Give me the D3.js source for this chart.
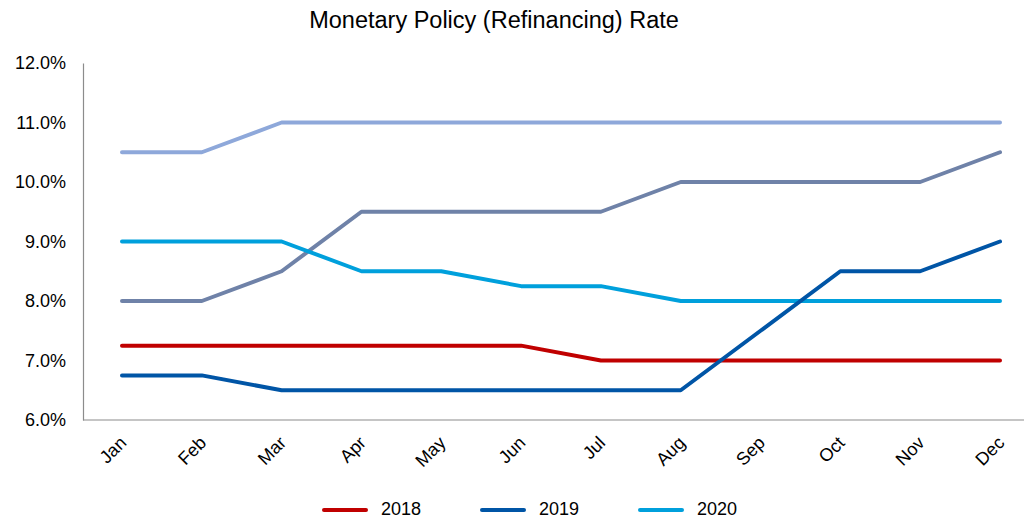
<!DOCTYPE html>
<html><head><meta charset="utf-8">
<script src="https://cdn.jsdelivr.net/npm/d3@7"></script>
<style>body{margin:0;background:#fff;}svg{display:block;font-family:"Liberation Sans",Arial,sans-serif;}</style>
</head><body><div id="chart"></div>
<script>
const months = ["Jan","Feb","Mar","Apr","May","Jun","Jul","Aug","Sep","Oct","Nov","Dec"];
const yTicks = [6,7,8,9,10,11,12];
const s2018 = [7.25,7.25,7.25,7.25,7.25,7.25,7.0,7.0,7.0,7.0,7.0,7.0];
const s2019 = [6.75,6.75,6.5,6.5,6.5,6.5,6.5,6.5,7.5,8.5,8.5,9.0];
const s2020 = [9,9,9,8.5,8.5,8.25,8.25,8,8,8,8,8];
const s2021 = [10.5,10.5,11,11,11,11,11,11,11,11,11,11];
const s2022 = [8,8,8.5,9.5,9.5,9.5,9.5,10,10,10,10,10.5];
const seriesNames = ["2018","2019","2020","2021","2022"];
const seriesColors = ["#C00000","#0055A6","#00A0DC","#8EA8DA","#6F82A8"];
const legendCount = 3;

const W = 1024, H = 519;
const svg = d3.select("#chart").append("svg").attr("width", W).attr("height", H);

const x = d3.scalePoint().domain(months).range([122, 1000]);
const y = d3.scaleLinear().domain([6, 12]).range([420, 63]);

svg.append("text").attr("x", 494).attr("y", 28).attr("text-anchor", "middle")
  .attr("font-size", 23.5).attr("fill", "#000").text("Monetary Policy (Refinancing) Rate");

// y axis
const yAxis = svg.append("g").attr("transform", "translate(83,0)")
  .call(d3.axisLeft(y).tickValues(yTicks).tickSize(0).tickPadding(17).tickFormat(d => d3.format(".1f")(d) + "%"));
yAxis.select(".domain").attr("stroke", "#8c8c8c").attr("stroke-width", 1.2);
yAxis.selectAll("text").attr("font-size", 18).attr("fill", "#000").attr("font-family", "Liberation Sans, Arial, sans-serif");

// x axis line
svg.append("line").attr("x1", 83).attr("x2", W).attr("y1", y(6)).attr("y2", y(6))
  .attr("stroke", "#8c8c8c").attr("stroke-width", 1.2);

const xAxis = svg.append("g").attr("transform", `translate(0,${y(6)})`)
  .call(d3.axisBottom(x).tickSize(0).tickPadding(0));
xAxis.select(".domain").remove();
xAxis.selectAll("text")
  .attr("font-size", 18).attr("fill", "#000").attr("font-family", "Liberation Sans, Arial, sans-serif")
  .attr("text-anchor", "end").attr("dy", null).attr("y", 0)
  .attr("transform", "translate(5,24) rotate(-45)");

const allSeries = [s2018, s2019, s2020, s2021, s2022];
const line = d3.line().x((d, i) => x(months[i])).y(d => y(d));
const order = [3, 4, 2, 0, 1];
order.forEach(k => {
  svg.append("path").datum(allSeries[k]).attr("d", line).attr("fill", "none")
    .attr("stroke", seriesColors[k]).attr("stroke-width", 4)
    .attr("stroke-linecap", "round").attr("stroke-linejoin", "round");
});

// legend
const legX = [322, 480, 638];
for (let i = 0; i < legendCount; i++) {
  const g = svg.append("g");
  g.append("line").attr("x1", legX[i] + 2).attr("x2", legX[i] + 44).attr("y1", 510).attr("y2", 510)
    .attr("stroke", seriesColors[i]).attr("stroke-width", 4).attr("stroke-linecap", "round");
  g.append("text").attr("x", legX[i] + 59).attr("y", 515).attr("font-size", 18).attr("fill", "#000")
    .text(seriesNames[i]);
}
</script></body></html>
